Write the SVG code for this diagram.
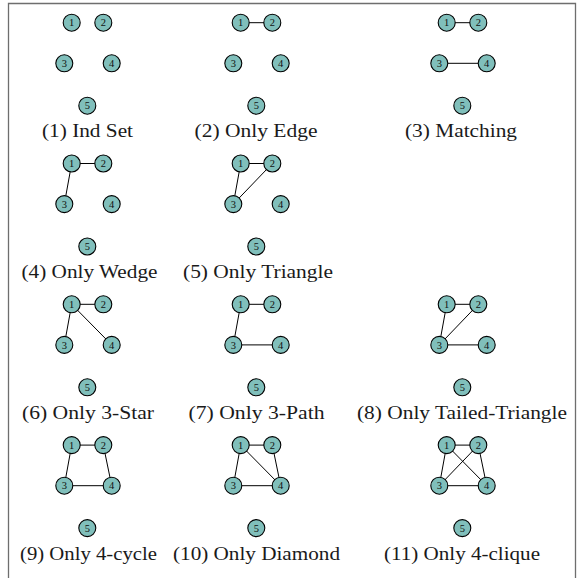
<svg xmlns="http://www.w3.org/2000/svg" width="580" height="578" viewBox="0 0 580 578">
<style>
.frame{fill:none;stroke:#6e6e6e;stroke-width:1.3}
.n circle{fill:#80bfbb;stroke:#000;stroke-width:1.1}
.n text{font-family:"Liberation Serif","DejaVu Serif",serif;font-size:10.5px;text-anchor:middle;fill:#111}
.e line{stroke:#000;stroke-width:1}
.lbl{font-family:"Liberation Serif","DejaVu Serif",serif;font-size:18.6px;text-anchor:middle;fill:#1a1a1a}
</style>
<defs>
<g id="nodes">
<g class="n"><circle cx="71.7" cy="22.7" r="8.5"/><text x="71.7" y="26.4">1</text></g>
<g class="n"><circle cx="103.3" cy="22.7" r="8.5"/><text x="103.3" y="26.4">2</text></g>
<g class="n"><circle cx="64.3" cy="63.3" r="8.5"/><text x="64.3" y="67">3</text></g>
<g class="n"><circle cx="111.7" cy="63.3" r="8.5"/><text x="111.7" y="67">4</text></g>
<g class="n"><circle cx="87.3" cy="105.7" r="8.5"/><text x="87.3" y="109.4">5</text></g>
</g>
</defs>
<path class="frame" d="M8.5,578 V3.5 H575.5 V578"/>
<g id="connectors" class="e">
<g transform="translate(169,0)"><line x1="71.7" y1="22.7" x2="103.3" y2="22.7"/></g>
<g transform="translate(375,0)"><line x1="71.7" y1="22.7" x2="103.3" y2="22.7"/><line x1="64.3" y1="63.3" x2="111.7" y2="63.3"/></g>
<g transform="translate(0,140.8)"><line x1="71.7" y1="22.7" x2="103.3" y2="22.7"/><line x1="71.7" y1="22.7" x2="64.3" y2="63.3"/></g>
<g transform="translate(169,140.8)"><line x1="71.7" y1="22.7" x2="103.3" y2="22.7"/><line x1="71.7" y1="22.7" x2="64.3" y2="63.3"/><line x1="103.3" y1="22.7" x2="64.3" y2="63.3"/></g>
<g transform="translate(0,281.6)"><line x1="71.7" y1="22.7" x2="103.3" y2="22.7"/><line x1="71.7" y1="22.7" x2="64.3" y2="63.3"/><line x1="71.7" y1="22.7" x2="111.7" y2="63.3"/></g>
<g transform="translate(169,281.6)"><line x1="71.7" y1="22.7" x2="103.3" y2="22.7"/><line x1="71.7" y1="22.7" x2="64.3" y2="63.3"/><line x1="64.3" y1="63.3" x2="111.7" y2="63.3"/></g>
<g transform="translate(375,281.6)"><line x1="71.7" y1="22.7" x2="103.3" y2="22.7"/><line x1="71.7" y1="22.7" x2="64.3" y2="63.3"/><line x1="103.3" y1="22.7" x2="64.3" y2="63.3"/><line x1="64.3" y1="63.3" x2="111.7" y2="63.3"/></g>
<g transform="translate(0,422.4)"><line x1="71.7" y1="22.7" x2="103.3" y2="22.7"/><line x1="71.7" y1="22.7" x2="64.3" y2="63.3"/><line x1="103.3" y1="22.7" x2="111.7" y2="63.3"/><line x1="64.3" y1="63.3" x2="111.7" y2="63.3"/></g>
<g transform="translate(169,422.4)"><line x1="71.7" y1="22.7" x2="103.3" y2="22.7"/><line x1="71.7" y1="22.7" x2="64.3" y2="63.3"/><line x1="71.7" y1="22.7" x2="111.7" y2="63.3"/><line x1="103.3" y1="22.7" x2="111.7" y2="63.3"/><line x1="64.3" y1="63.3" x2="111.7" y2="63.3"/></g>
<g transform="translate(375,422.4)"><line x1="71.7" y1="22.7" x2="103.3" y2="22.7"/><line x1="71.7" y1="22.7" x2="64.3" y2="63.3"/><line x1="71.7" y1="22.7" x2="111.7" y2="63.3"/><line x1="103.3" y1="22.7" x2="64.3" y2="63.3"/><line x1="103.3" y1="22.7" x2="111.7" y2="63.3"/><line x1="64.3" y1="63.3" x2="111.7" y2="63.3"/></g>
</g>
<g id="p1"><use href="#nodes"/><text class="lbl" x="87.5" y="137.3" textLength="91" lengthAdjust="spacingAndGlyphs">(1) Ind Set</text></g>
<g id="p2" transform="translate(169,0)"><use href="#nodes"/><text class="lbl" x="87" y="137.3" textLength="123" lengthAdjust="spacingAndGlyphs">(2) Only Edge</text></g>
<g id="p3" transform="translate(375,0)"><use href="#nodes"/><text class="lbl" x="86" y="137.3" textLength="112" lengthAdjust="spacingAndGlyphs">(3) Matching</text></g>
<g id="p4" transform="translate(0,140.8)"><use href="#nodes"/><text class="lbl" x="89.5" y="137.3" textLength="136" lengthAdjust="spacingAndGlyphs">(4) Only Wedge</text></g>
<g id="p5" transform="translate(169,140.8)"><use href="#nodes"/><text class="lbl" x="89" y="137.3" textLength="150" lengthAdjust="spacingAndGlyphs">(5) Only Triangle</text></g>
<g id="p6" transform="translate(0,281.6)"><use href="#nodes"/><text class="lbl" x="88" y="137.3" textLength="132" lengthAdjust="spacingAndGlyphs">(6) Only 3-Star</text></g>
<g id="p7" transform="translate(169,281.6)"><use href="#nodes"/><text class="lbl" x="87.5" y="137.3" textLength="136" lengthAdjust="spacingAndGlyphs">(7) Only 3-Path</text></g>
<g id="p8" transform="translate(375,281.6)"><use href="#nodes"/><text class="lbl" x="87" y="137.3" textLength="210" lengthAdjust="spacingAndGlyphs">(8) Only Tailed-Triangle</text></g>
<g id="p9" transform="translate(0,422.4)"><use href="#nodes"/><text class="lbl" x="88.5" y="137.3" textLength="137" lengthAdjust="spacingAndGlyphs">(9) Only 4-cycle</text></g>
<g id="p10" transform="translate(169,422.4)"><use href="#nodes"/><text class="lbl" x="87.5" y="137.3" textLength="167" lengthAdjust="spacingAndGlyphs">(10) Only Diamond</text></g>
<g id="p11" transform="translate(375,422.4)"><use href="#nodes"/><text class="lbl" x="87" y="137.3" textLength="156" lengthAdjust="spacingAndGlyphs">(11) Only 4-clique</text></g>
</svg>
